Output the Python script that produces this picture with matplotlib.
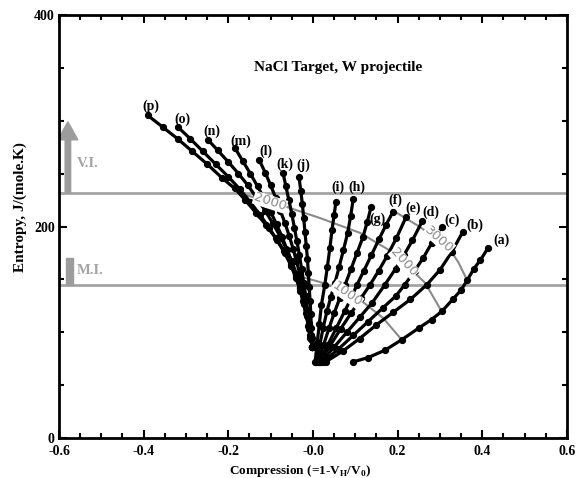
import matplotlib
matplotlib.use("Agg")
import matplotlib.pyplot as plt
from matplotlib.patches import Rectangle
from matplotlib.ticker import MultipleLocator, FixedLocator, FixedFormatter

# Hugoniot branches (a)-(p): compression 1-V_H/V_0 and entropy J/(mole.K)
a_comp = [0.095, 0.13, 0.17, 0.21, 0.25, 0.28, 0.305, 0.33, 0.35, 0.364, 0.38, 0.395, 0.414]
a_entr = [72, 76, 83, 93, 104, 112, 120, 131, 140, 149, 160, 168, 180]
b_comp = [0.030, 0.07, 0.11, 0.15, 0.19, 0.23, 0.269, 0.30, 0.328, 0.354]
b_entr = [72, 82, 94, 107, 119, 131, 145, 159, 176, 195]
c_comp = [0.025, 0.06, 0.095, 0.13, 0.165, 0.195, 0.217, 0.24, 0.26, 0.28, 0.305]
c_entr = [72, 84, 97, 110, 123, 134, 145, 158, 170, 184, 200]
d_comp = [0.020, 0.05, 0.08, 0.11, 0.14, 0.170, 0.195, 0.215, 0.235, 0.258]
d_entr = [72, 86, 100, 114, 128, 145, 160, 173, 187, 205]
e_comp = [0.017, 0.04, 0.065, 0.09, 0.113, 0.135, 0.155, 0.175, 0.197, 0.220]
e_entr = [72, 87, 103, 118, 132, 145, 158, 172, 189, 209]
f_comp = [0.014, 0.035, 0.055, 0.075, 0.090, 0.104, 0.12, 0.138, 0.156, 0.172, 0.189]
f_entr = [72, 88, 104, 120, 132, 145, 158, 173, 188, 201, 214]
g_comp = [0.011, 0.025, 0.038, 0.05, 0.063, 0.076, 0.09, 0.104, 0.118, 0.128, 0.137]
g_entr = [72, 88, 104, 118, 132, 145, 160, 175, 190, 204, 218]
h_comp = [0.008, 0.016, 0.024, 0.033, 0.042, 0.052, 0.062, 0.072, 0.082, 0.089, 0.095]
h_entr = [72, 88, 104, 120, 133, 147, 162, 178, 194, 210, 226]
i_comp = [0.005, 0.010, 0.015, 0.020, 0.028, 0.034, 0.040, 0.045, 0.050, 0.054]
i_entr = [72, 90, 108, 126, 145, 162, 180, 197, 211, 223]
j_comp = [-0.002, -0.003, -0.004, -0.005, -0.007, -0.009, -0.011, -0.013, -0.016, -0.019, -0.022, -0.025, -0.029, -0.033]
j_entr = [86, 95, 104, 117, 130, 143, 156, 169, 182, 195, 208, 221, 234, 247]
k_comp = [-0.002, -0.005, -0.009, -0.013, -0.017, -0.022, -0.027, -0.032, -0.038, -0.044, -0.050, -0.057, -0.064, -0.071]
k_entr = [86, 97, 109, 121, 134, 147, 160, 173, 186, 199, 212, 225, 238, 251]
l_comp = [-0.002, -0.005, -0.009, -0.014, -0.019, -0.025, -0.031, -0.039, -0.047, -0.056, -0.066, -0.077, -0.088, -0.100, -0.113, -0.127]
l_entr = [86, 96, 107, 119, 131, 143, 155, 167, 179, 191, 203, 215, 227, 239, 251, 263]
m_comp = [-0.002, -0.006, -0.011, -0.017, -0.024, -0.031, -0.040, -0.050, -0.061, -0.073, -0.086, -0.100, -0.115, -0.131, -0.148, -0.166, -0.184]
m_entr = [86, 95, 106, 118, 130, 142, 154, 166, 178, 190, 202, 214, 226, 238, 250, 262, 274]
n_comp = [-0.002, -0.006, -0.010, -0.015, -0.022, -0.030, -0.039, -0.050, -0.063, -0.078, -0.095, -0.113, -0.133, -0.154, -0.176, -0.200, -0.225, -0.248]
n_entr = [86, 97, 108, 119, 131, 143, 155, 167, 179, 191, 203, 215, 227, 239, 250, 261, 272, 282]
o_comp = [-0.002, -0.005, -0.009, -0.015, -0.022, -0.030, -0.040, -0.052, -0.067, -0.085, -0.104, -0.125, -0.148, -0.172, -0.200, -0.230, -0.260, -0.290, -0.319]
o_entr = [86, 94, 103, 115, 127, 139, 151, 163, 175, 187, 199, 211, 223, 235, 247, 259, 271, 283, 294]
p_comp = [-0.002, -0.005, -0.009, -0.015, -0.022, -0.030, -0.040, -0.052, -0.068, -0.088, -0.110, -0.135, -0.160, -0.185, -0.215, -0.250, -0.285, -0.320, -0.355, -0.390]
p_entr = [86, 95, 105, 117, 129, 141, 153, 165, 177, 189, 201, 213, 225, 236, 246, 259, 271, 283, 294, 305]

branches = [
    ("a", a_comp, a_entr), ("b", b_comp, b_entr), ("c", c_comp, c_entr),
    ("d", d_comp, d_entr), ("e", e_comp, e_entr), ("f", f_comp, f_entr),
    ("g", g_comp, g_entr), ("h", h_comp, h_entr), ("i", i_comp, i_entr),
    ("j", j_comp, j_entr), ("k", k_comp, k_entr), ("l", l_comp, l_entr),
    ("m", m_comp, m_entr), ("n", n_comp, n_entr), ("o", o_comp, o_entr),
    ("p", p_comp, p_entr),
]
# label offsets (points) from the last point of each branch
label_offsets = {
    "a": (9.5, 5), "b": (8.5, 5), "c": (7, 4.5), "d": (6, 6.5), "e": (5, 6.5),
    "f": (2, 8), "g": (4.5, -8.5), "h": (3, 8.5), "i": (1.5, 11), "j": (3, 8.5),
    "k": (1.5, 6), "l": (5, 6), "m": (4, 5), "n": (3, 6.5), "o": (3, 6),
    "p": (2, 6.5),
}

# iso-velocity contours (gray)
v1000_comp = [-0.0425, 0.0166, 0.064, 0.118, 0.1655, 0.210]
v1000_entr = [154, 147.5, 140, 128.6, 113.5, 92.7]
v2000_comp = [-0.16, -0.1015, -0.0614, 0.0166, 0.111, 0.187, 0.246, 0.265, 0.305]
v2000_entr = [230, 223, 218.4, 208, 194, 176, 154, 146.6, 119]
v3000_comp = [0.187, 0.253, 0.324, 0.343, 0.364]
v3000_entr = [215.6, 199.5, 177.8, 166.4, 149.4]

# vaporization / melting entropy levels
vi_entropy = 232
mi_entropy = 145

x_ticks = [-0.6, -0.4, -0.2, 0.0, 0.2, 0.4, 0.6]
x_tick_labels = ["-0.6", "-0.4", "-0.2", "-0.0", "0.2", "0.4", "0.6"]
y_ticks = [0, 200, 400]
y_tick_labels = ["0", "200", "400"]


def main():
    plt.rcParams["font.family"] = ["Liberation Serif", "DejaVu Serif"]
    plt.rcParams["font.weight"] = "bold"
    plt.rcParams["axes.labelweight"] = "bold"
    plt.rcParams["mathtext.fontset"] = "custom"
    plt.rcParams["mathtext.rm"] = "Liberation Serif:bold"
    plt.rcParams["mathtext.bf"] = "Liberation Serif:bold"

    fig = plt.figure(figsize=(5.87, 4.78), dpi=100)
    ax = fig.add_axes([0.1005, 0.0837, 0.8654, 0.8849])
    gray = "#a4a4a4"

    ax.axhline(vi_entropy, color=gray, lw=2, zorder=1)
    ax.axhline(mi_entropy, color=gray, lw=2, zorder=1)
    ax.arrow(-0.579, vi_entropy, 0, 299 - vi_entropy, width=0.013,
             head_width=0.047, head_length=17, length_includes_head=True,
             color="#9c9c9c", zorder=2)
    ax.add_patch(Rectangle((-0.583, mi_entropy), 0.0165, 25,
                           color="#9c9c9c", zorder=2))
    ax.text(-0.557, 260, "V.I.", color=gray, fontsize=10.5, va="center")
    ax.text(-0.557, 158, "M.I.", color=gray, fontsize=10.5, va="center")

    cgray = "#8a8a8a"
    for cx, cy in [(v1000_comp, v1000_entr), (v2000_comp, v2000_entr),
                   (v3000_comp, v3000_entr)]:
        ax.plot(cx, cy, color=cgray, lw=1.5, zorder=2)

    for name, comp, entr in branches:
        ax.plot(comp, entr, "-o", color="black", lw=2.3, ms=4.2, zorder=3)
        ax.annotate(f"({name})", (comp[-1], entr[-1]),
                    xytext=label_offsets[name], textcoords="offset points",
                    ha="center", va="center", fontsize=10)

    lab_kw = dict(color=cgray, fontsize=9.5, fontweight="normal",
                  family="DejaVu Sans", ha="center", va="center", zorder=4,
                  bbox=dict(facecolor="white", edgecolor="none", pad=0.2))
    ax.text(-0.1015, 223, "2000", rotation=-18, **lab_kw)
    ax.text(0.08, 136, "1000", rotation=-36, **lab_kw)
    ax.text(0.215, 166, "2000", rotation=-48, **lab_kw)
    ax.text(0.298, 188, "3000", rotation=-42, **lab_kw)

    ax.text(0.06, 350, "NaCl Target, W projectile", ha="center",
            va="center", fontsize=11)

    ax.set_xlim(-0.6, 0.6)
    ax.set_ylim(0, 400)
    ax.xaxis.set_major_locator(FixedLocator(x_ticks))
    ax.xaxis.set_major_formatter(FixedFormatter(x_tick_labels))
    ax.xaxis.set_minor_locator(MultipleLocator(0.05))
    ax.yaxis.set_major_locator(FixedLocator(y_ticks))
    ax.yaxis.set_major_formatter(FixedFormatter(y_tick_labels))
    ax.yaxis.set_minor_locator(MultipleLocator(50))
    ax.tick_params(which="both", direction="in", top=True, right=True,
                   width=1.5, labelsize=10)
    ax.tick_params(axis="x", pad=5)
    ax.tick_params(axis="y", pad=3)
    ax.tick_params(which="major", length=6)
    ax.tick_params(which="minor", length=3.5)
    for sp in ax.spines.values():
        sp.set_linewidth(2)

    ax.set_xlabel(r"Compression (=1-V$_\mathbf{H}$/V$_\mathbf{0}$)",
                  fontsize=9.5)
    ax.set_ylabel("Entropy, J/(mole.K)", fontsize=11)
    ax.xaxis.set_label_coords(0.474, -0.059)
    ax.yaxis.set_label_coords(-0.063, 0.546)

    fig.savefig("out.png", dpi=100)
    plt.close(fig)


if __name__ == "__main__":
    main()
